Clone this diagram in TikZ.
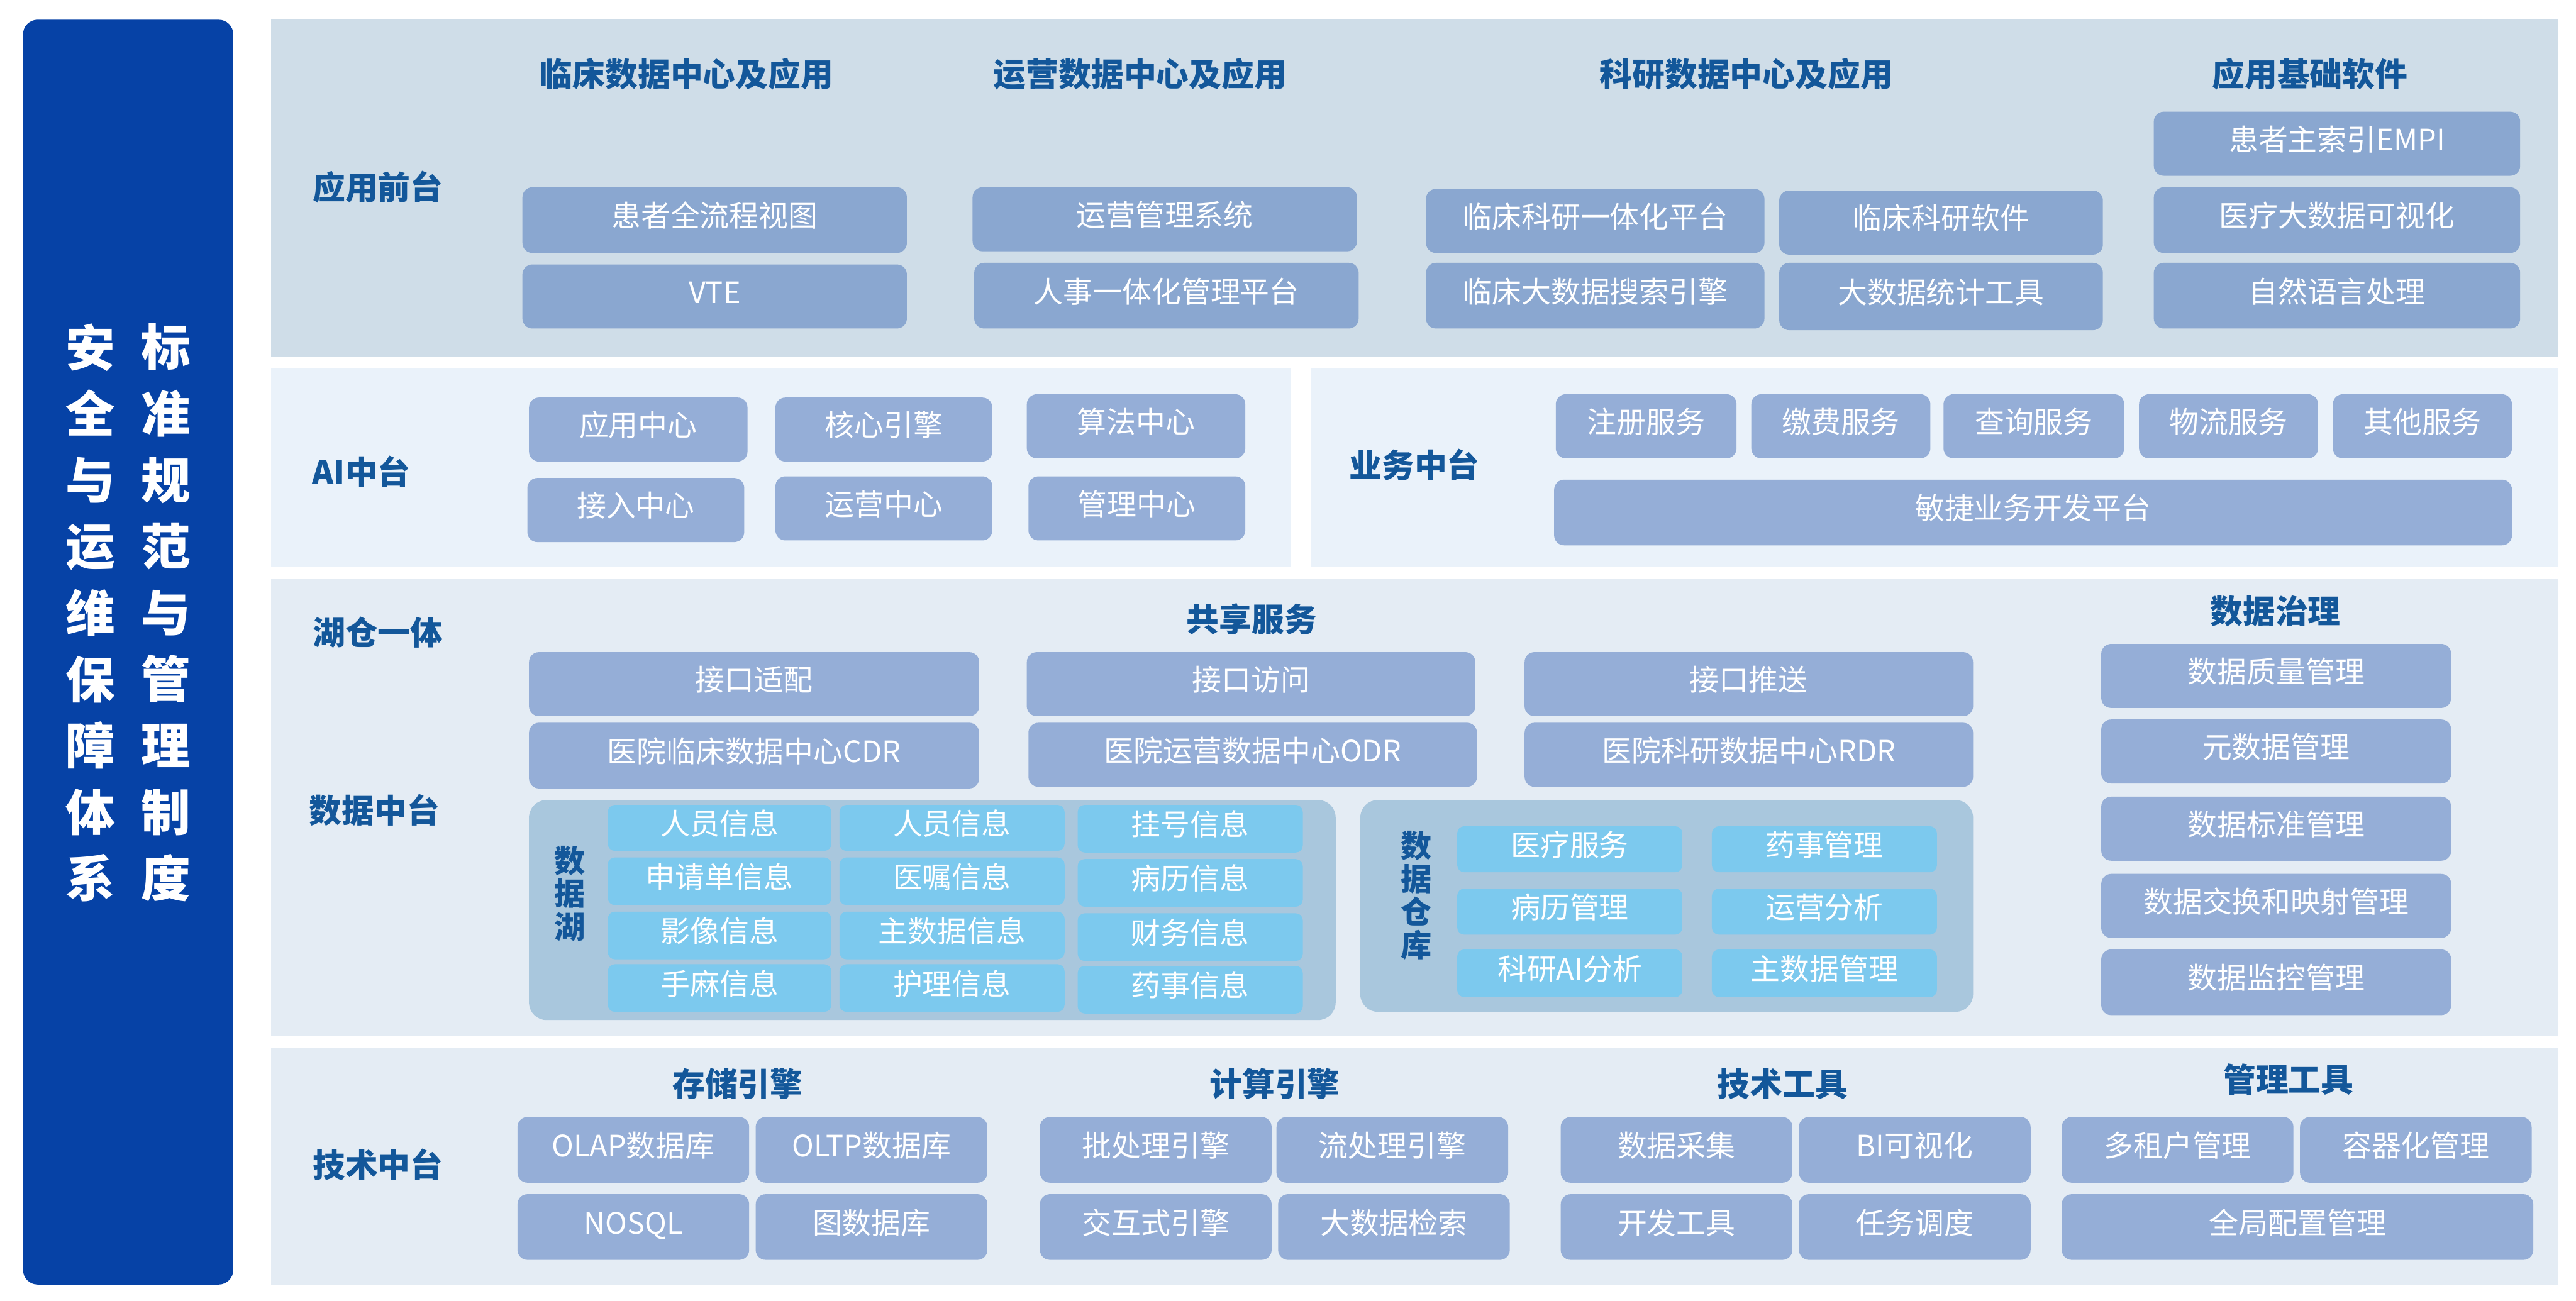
\documentclass[tikz,border=0pt]{standalone}
\usepackage{fontspec}
\setmainfont{Noto Sans CJK SC}
\definecolor{barblue}{HTML}{0642A6}
\definecolor{bgA}{HTML}{CFDDE8}
\definecolor{bgB}{HTML}{EAF2FA}
\definecolor{bgC}{HTML}{E4ECF4}
\definecolor{boxA}{HTML}{8AA7D0}
\definecolor{boxB}{HTML}{95AED7}
\definecolor{lakebg}{HTML}{A9C7DD}
\definecolor{cellc}{HTML}{7CC9EE}
\definecolor{hdr}{HTML}{13579A}
\newcommand\bx[7][boxa]{\node[#1, minimum width={(#4-#2)*0.028cm}, minimum height={(#5-#3)*0.028cm}] (#6) at ({(#2+#4)/2},{(#3+#5)/2}) {#7};}
\begin{document}
\begin{tikzpicture}[x=0.028cm,y=-0.028cm,
  boxbase/.style={rounded corners=0.17cm, text=white, inner sep=0pt, text height=10pt, text depth=3.4pt, font=\fontsize{14.3}{16}\selectfont},
  boxa/.style={boxbase, fill=boxA},
  boxb/.style={boxbase, fill=boxB},
  cell/.style={boxbase, fill=cellc, rounded corners=0.12cm},
  panel/.style={inner sep=0pt},
  hd/.style={text=hdr, font=\fontsize{15.8}{18}\selectfont\bfseries},
  vlab/.style={text=hdr, align=center, font=\fontsize{15}{16}\selectfont\bfseries},
  side/.style={text=white, align=center, font=\fontsize{24}{32.2}\selectfont\bfseries}]
\useasboundingbox (0,0) rectangle (1568,792);
\fill[white] (0,0) rectangle (1568,792);
% left bar
\bx[panel, fill=barblue, rounded corners=0.25cm]{14}{12}{142}{782}{bar}{}
\node[side] (sideA) at (55,373) {安\\全\\与\\运\\维\\保\\障\\体\\系};
\node[side] (sideB) at (101,373) {标\\准\\规\\范\\与\\管\\理\\制\\度};
% section backgrounds
\bx[panel, fill=bgA]{165}{12}{1557}{217}{secA}{}
\bx[panel, fill=bgB]{165}{224}{786}{345}{secAI}{}
\bx[panel, fill=bgB]{798}{224}{1557}{345}{secBiz}{}
\bx[panel, fill=bgC]{165}{352}{1557}{631}{secData}{}
\bx[panel, fill=bgC]{165}{638}{1557}{782}{secTech}{}
% ---- 应用前台
\node[hd] (lA) at (230,114) {应用前台};
\node[hd] (hA1) at (418,45) {临床数据中心及应用};
\node[hd] (hA2) at (694,45) {运营数据中心及应用};
\node[hd] (hA3) at (1063,45) {科研数据中心及应用};
\node[hd] (hA4) at (1406,45) {应用基础软件};
\bx{318}{114}{552}{154}{a1}{患者全流程视图}
\bx{318}{161}{552}{200}{a2}{VTE}
\bx{592}{114}{826}{153}{a3}{运营管理系统}
\bx{593}{160}{827}{200}{a4}{人事一体化管理平台}
\bx{868}{115}{1074}{154}{a5}{临床科研一体化平台}
\bx{1083}{116}{1280}{155}{a6}{临床科研软件}
\bx{868}{160}{1074}{200}{a7}{临床大数据搜索引擎}
\bx{1083}{160}{1280}{201}{a8}{大数据统计工具}
\bx{1311}{68}{1534}{107}{a9}{患者主索引EMPI}
\bx{1311}{114}{1534}{154}{a10}{医疗大数据可视化}
\bx{1311}{160}{1534}{200}{a11}{自然语言处理}
% ---- AI中台
\node[hd] (lAI) at (220,287) {AI中台};
\bx[boxb]{322}{242}{455}{281}{ai1}{应用中心}
\bx[boxb]{472}{242}{604}{281}{ai2}{核心引擎}
\bx[boxb]{625}{240}{758}{279}{ai3}{算法中心}
\bx[boxb]{321}{291}{453}{330}{ai4}{接入中心}
\bx[boxb]{472}{290}{604}{329}{ai5}{运营中心}
\bx[boxb]{626}{290}{758}{329}{ai6}{管理中心}
% ---- 业务中台
\node[hd] (lBiz) at (861,283) {业务中台};
\bx[boxb]{947}{240}{1057}{279}{b1}{注册服务}
\bx[boxb]{1066}{240}{1175}{279}{b2}{缴费服务}
\bx[boxb]{1183}{240}{1293}{279}{b3}{查询服务}
\bx[boxb]{1302}{240}{1411}{279}{b4}{物流服务}
\bx[boxb]{1420}{240}{1529}{279}{b5}{其他服务}
\bx[boxb]{946}{292}{1529}{332}{b6}{敏捷业务开发平台}
% ---- 数据中台
\node[hd] (lLake) at (230,385) {湖仓一体};
\node[hd] (lData) at (228,493) {数据中台};
\node[hd] (hShare) at (762,377) {共享服务};
\node[hd] (hGov) at (1385,372) {数据治理};
\bx[boxb]{322}{397}{596}{436}{s1}{接口适配}
\bx[boxb]{625}{397}{898}{436}{s2}{接口访问}
\bx[boxb]{928}{397}{1201}{436}{s3}{接口推送}
\bx[boxb]{322}{440}{596}{480}{s4}{医院临床数据中心CDR}
\bx[boxb]{626}{440}{899}{479}{s5}{医院运营数据中心ODR}
\bx[boxb]{928}{440}{1201}{479}{s6}{医院科研数据中心RDR}
\bx[boxb]{1279}{392}{1492}{431}{g1}{数据质量管理}
\bx[boxb]{1279}{438}{1492}{477}{g2}{元数据管理}
\bx[boxb]{1279}{485}{1492}{524}{g3}{数据标准管理}
\bx[boxb]{1279}{532}{1492}{571}{g4}{数据交换和映射管理}
\bx[boxb]{1279}{578}{1492}{618}{g5}{数据监控管理}
% data lake
\bx[panel, fill=lakebg, rounded corners=0.3cm]{322}{487}{813}{621}{lake}{}
\node[vlab] (lakeL) at (347,544) {数\\据\\湖};
\bx[cell]{370}{490}{506}{518}{c1}{人员信息}
\bx[cell]{511}{490}{648}{518}{c2}{人员信息}
\bx[cell]{656}{490}{793}{519}{c3}{挂号信息}
\bx[cell]{370}{522}{506}{551}{c4}{申请单信息}
\bx[cell]{511}{522}{648}{551}{c5}{医嘱信息}
\bx[cell]{656}{523}{793}{552}{c6}{病历信息}
\bx[cell]{370}{555}{506}{584}{c7}{影像信息}
\bx[cell]{511}{555}{648}{584}{c8}{主数据信息}
\bx[cell]{656}{556}{793}{585}{c9}{财务信息}
\bx[cell]{370}{587}{506}{616}{c10}{手麻信息}
\bx[cell]{511}{587}{648}{616}{c11}{护理信息}
\bx[cell]{656}{588}{793}{617}{c12}{药事信息}
% data warehouse
\bx[panel, fill=lakebg, rounded corners=0.3cm]{828}{487}{1201}{616}{wh}{}
\node[vlab] (whL) at (862,545) {数\\据\\仓\\库};
\bx[cell]{887}{503}{1024}{531}{w1}{医疗服务}
\bx[cell]{1042}{503}{1179}{531}{w2}{药事管理}
\bx[cell]{887}{541}{1024}{569}{w3}{病历管理}
\bx[cell]{1042}{541}{1179}{569}{w4}{运营分析}
\bx[cell]{887}{578}{1024}{607}{w5}{科研AI分析}
\bx[cell]{1042}{578}{1179}{607}{w6}{主数据管理}
% ---- 技术中台
\node[hd] (lTech) at (230,709) {技术中台};
\node[hd] (hT1) at (449,660) {存储引擎};
\node[hd] (hT2) at (776,660) {计算引擎};
\node[hd] (hT3) at (1085,660) {技术工具};
\node[hd] (hT4) at (1393,657) {管理工具};
\bx[boxb]{315}{680}{456}{720}{t1}{OLAP数据库}
\bx[boxb]{460}{680}{601}{720}{t2}{OLTP数据库}
\bx[boxb]{315}{727}{456}{767}{t3}{NOSQL}
\bx[boxb]{460}{727}{601}{767}{t4}{图数据库}
\bx[boxb]{633}{680}{774}{720}{t5}{批处理引擎}
\bx[boxb]{777}{680}{918}{720}{t6}{流处理引擎}
\bx[boxb]{633}{727}{774}{767}{t7}{交互式引擎}
\bx[boxb]{778}{727}{919}{767}{t8}{大数据检索}
\bx[boxb]{950}{680}{1091}{720}{t9}{数据采集}
\bx[boxb]{1095}{680}{1236}{720}{t10}{BI可视化}
\bx[boxb]{950}{727}{1091}{767}{t11}{开发工具}
\bx[boxb]{1095}{727}{1236}{767}{t12}{任务调度}
\bx[boxb]{1255}{680}{1396}{720}{t13}{多租户管理}
\bx[boxb]{1400}{680}{1541}{720}{t14}{容器化管理}
\bx[boxb]{1255}{727}{1542}{767}{t15}{全局配置管理}
\end{tikzpicture}
\end{document}
